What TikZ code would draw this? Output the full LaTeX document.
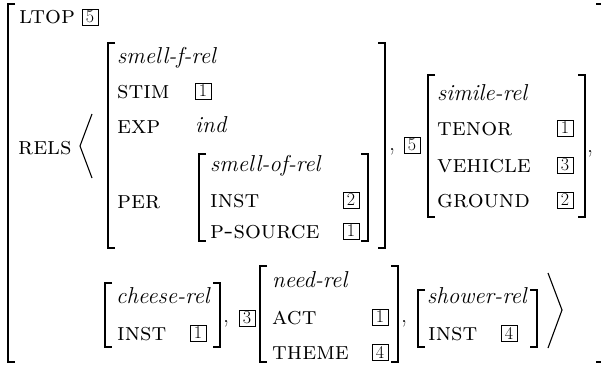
\documentclass[tikz,border=0pt]{standalone}
\begin{document}
\begin{tikzpicture}[x=1pt,y=-1pt]
\tikzset{
 attr/.style={anchor=base west, inner sep=0pt, font=\fontsize{25}{29}\selectfont\scshape},
 typ/.style={anchor=base west, inner sep=0pt, font=\fontsize{23}{27}\selectfont\itshape},
 tagbox/.style={draw, line width=0.7pt, minimum width=16pt, minimum height=16pt, inner sep=0pt, font=\fontsize{18}{20}\selectfont},
 comma/.style={anchor=base west, inner sep=0pt, font=\fontsize{24}{28}\selectfont},
 brk/.style={line width=1.5pt},
 angl/.style={line width=1.1pt}
}
\useasboundingbox (0,0) rectangle (601,368);
% outer bracket
\draw[brk] (15,4) -- (8,4) -- (8,362) -- (15,362);
\draw[brk] (596,4) -- (601,4);
\draw[brk] (596,362) -- (601,362);
\node[attr] (ltop) at (19,23) {ltop};
\node[tagbox] (t5a) at (90,17) {5};
\node[attr] (rels) at (18,154) {rels};
% langle
\draw[angl] (92,114) -- (80,146) -- (92,178);
% smell-f-rel
\draw[brk] (115,43) -- (108,43) -- (108,248) -- (115,248);
\draw[brk] (378,43) -- (385,43) -- (385,248) -- (378,248);
\node[typ] (sfr) at (117,63) {smell-f-rel};
\node[attr] (stim) at (117,98) {stim};
\node[tagbox] (t1a) at (203,91) {1};
\node[attr] (exp) at (117,133) {exp};
\node[typ] (ind) at (195,132) {ind};
\node[attr] (per) at (117,208) {per};
% smell-of-rel
\draw[brk] (206,154) -- (199,154) -- (199,241) -- (206,241);
\draw[brk] (361,154) -- (368,154) -- (368,241) -- (361,241);
\node[typ] (sor) at (210,171) {smell-of-rel};
\node[attr] (inst1) at (210,207) {inst};
\node[tagbox] (t2a) at (351,200) {2};
\node[attr] (psrc) at (210,238) {p-source};
\node[tagbox] (t1b) at (351,231) {1};
\node[comma] (c1) at (389,150) {,};
\node[tagbox] (t5b) at (412,145) {5};
% simile-rel
\draw[brk] (435,75) -- (428,75) -- (428,217) -- (435,217);
\draw[brk] (578,75) -- (585,75) -- (585,217) -- (578,217);
\node[typ] (sim) at (437,100) {simile-rel};
\node[attr] (tenor) at (437,135) {tenor};
\node[tagbox] (t1c) at (565,128) {1};
\node[attr] (veh) at (437,172) {vehicle};
\node[tagbox] (t3a) at (565,165) {3};
\node[attr] (grd) at (437,207) {ground};
\node[tagbox] (t2b) at (565,200) {2};
\node[comma] (c2) at (587,152) {,};
% cheese-rel
\draw[brk] (112,283) -- (105,283) -- (105,347) -- (112,347);
\draw[brk] (213,283) -- (220,283) -- (220,347) -- (213,347);
\node[typ] (chr) at (116,303) {cheese-rel};
\node[attr] (inst2) at (117,340) {inst};
\node[tagbox] (t1d) at (198,333) {1};
\node[comma] (c3) at (223,322) {,};
\node[tagbox] (t3b) at (247,318) {3};
% need-rel
\draw[brk] (267,266) -- (260,266) -- (260,362) -- (267,362);
\draw[brk] (391,266) -- (398,266) -- (398,362) -- (391,362);
\node[typ] (ndr) at (272,287) {need-rel};
\node[attr] (act) at (272,324) {act};
\node[tagbox] (t1e) at (380,317) {1};
\node[attr] (theme) at (272,359) {theme};
\node[tagbox] (t4a) at (380,352) {4};
\node[comma] (c4) at (401,322) {,};
% shower-rel
\draw[brk] (425,290) -- (418,290) -- (418,347) -- (425,347);
\draw[brk] (530,290) -- (537,290) -- (537,347) -- (530,347);
\node[typ] (shr) at (427,303) {shower-rel};
\node[attr] (inst3) at (428,340) {inst};
\node[tagbox] (t4b) at (509,333) {4};
% rangle
\draw[angl] (548,273) -- (562,310) -- (548,348);
\end{tikzpicture}
\end{document}
